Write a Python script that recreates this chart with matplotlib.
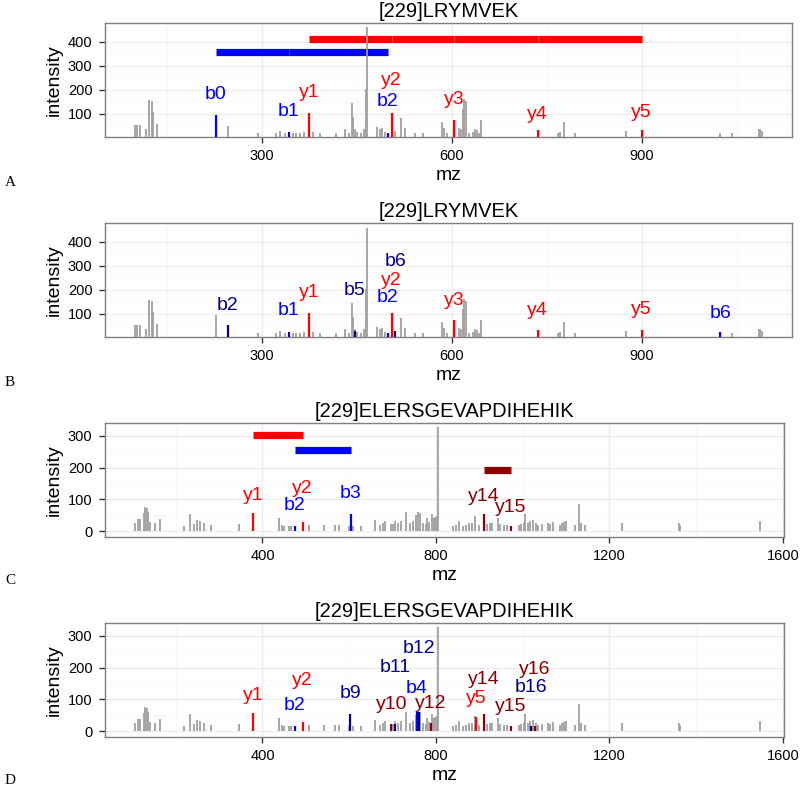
import matplotlib
matplotlib.use("Agg")
import matplotlib.pyplot as plt
from matplotlib.ticker import MultipleLocator

plt.rcParams['font.family'] = ['Liberation Sans', 'DejaVu Sans']

# ---- spectra (gray peaks) ----
lry_mz = [99, 102, 107, 117, 122, 126, 128, 134, 227, 246, 293, 322, 328, 336, 349, 354, 360, 366,
          381, 392, 417, 431, 437, 442, 444, 447, 451, 457, 461, 464, 466, 482, 487, 490, 494, 510,
          520, 526, 542, 555, 585, 588, 593, 611, 614, 618, 620, 623, 628, 633, 636, 640, 643, 646,
          768, 771, 778, 795, 876, 1024, 1043, 1085, 1087, 1091]
lry_int = [53, 53, 53, 35, 158, 154, 105, 58, 95, 49, 18, 18, 28, 21, 18, 18, 18, 24,
           25, 18, 18, 35, 21, 144, 84, 36, 25, 21, 35, 203, 459, 46, 36, 42, 25, 28,
           81, 42, 21, 21, 67, 39, 21, 42, 35, 119, 161, 154, 21, 25, 36, 31, 21, 73,
           21, 25, 67, 18, 28, 18, 18, 34, 35, 28]

eler_mz = [106, 112, 117, 127, 130, 133, 136, 141, 153, 164, 220, 234, 243, 249, 255, 265, 282, 347,
           438, 444, 449, 462, 467, 508, 541, 567, 577, 600, 608, 627, 660, 670, 677, 683, 696, 700,
           705, 712, 720, 730, 741, 747, 754, 759, 764, 771, 776, 780, 785, 791, 796, 799, 803, 805,
           840, 847, 853, 862, 870, 877, 883, 891, 899, 917, 924, 930, 942, 948, 956, 965, 991, 997,
           1003, 1006, 1012, 1018, 1024, 1030, 1036, 1044, 1059, 1064, 1070, 1085, 1091, 1096, 1101,
           1121, 1130, 1135, 1144, 1229, 1360, 1362, 1547]
eler_int = [25, 39, 39, 57, 75, 73, 62, 28, 27, 39, 17, 54, 22, 36, 33, 27, 20, 22,
            43, 20, 18, 18, 18, 20, 20, 20, 20, 18, 18, 17, 36, 20, 25, 31, 22, 22,
            31, 25, 33, 61, 27, 33, 52, 60, 59, 27, 22, 41, 28, 55, 41, 46, 49, 328,
            17, 20, 31, 17, 20, 27, 27, 49, 20, 22, 25, 25, 43, 22, 20, 20, 20, 22,
            27, 54, 25, 33, 36, 27, 20, 22, 25, 22, 28, 20, 25, 28, 31,
            20, 85, 27, 20, 25, 25, 20, 31]

# ---- annotated ions per panel ----
a_ions = ['b0', 'b1', 'y1', 'b2', 'y2', 'y3', 'y4', 'y5']
a_ion_mz = [227, 342, 375, 499, 505, 604, 736, 900]
a_ion_int = [95, 24, 104, 20, 101, 74, 32, 31]
a_ion_col = ['blue', 'blue', 'red', 'blue', 'red', 'red', 'red', 'red']
a_label_y = [180, 108, 187, 151, 238, 157, 98, 105]

b_ions = ['b2', 'b1', 'y1', 'b5', 'b2', 'y2', 'b6', 'y3', 'y4', 'y5', 'b6']
b_ion_mz = [246, 342, 375, 447, 499, 505, 511, 604, 736, 900, 1024]
b_ion_int = [52, 24, 104, 28, 20, 101, 29, 74, 32, 31, 24]
b_ion_col = ['darkblue', 'blue', 'red', 'darkblue', 'blue', 'red', 'darkblue', 'red', 'red', 'red', 'blue']
b_label_y = [132, 112, 188, 198, 167, 240, 318, 156, 112, 116, 102]

c_ions = ['y1', 'b2', 'y2', 'b3', 'y14', 'y15']
c_ion_mz = [379, 474, 493, 604, 910, 973]
c_ion_int = [57, 18, 28, 55, 54, 18]
c_ion_col = ['red', 'blue', 'red', 'blue', 'darkred', 'darkred']
c_label_y = [113, 80, 133, 118, 109, 75]

d_ions = ['y1', 'b2', 'y2', 'b9', 'y10', 'b11', 'b4', 'b12', 'y12', 'y5', 'y14', 'y15', 'b16', 'y16']
d_ion_mz = [379, 474, 493, 602, 697, 706, 756, 762, 789, 892, 910, 973, 1020, 1028]
d_ion_int = [57, 18, 28, 55, 22, 22, 60, 60, 25, 46, 54, 18, 18, 18]
d_ion_col = ['red', 'blue', 'red', 'darkblue', 'darkred', 'darkblue', 'blue', 'darkblue',
             'darkred', 'red', 'darkred', 'darkred', 'darkblue', 'darkred']
d_label_y = [113, 80, 159, 118, 83, 201, 134, 259, 88, 104, 162, 78, 136, 194]

# ion series bars (consecutive ions joined)
a_bar_mz = [[375, 505, 604, 736, 900], [227, 342, 499]]
a_bar_y = [410, 358]
a_bar_col = ['red', 'blue']
c_bar_mz = [[379, 493], [474, 604], [910, 973]]
c_bar_y = [304, 255, 194]
c_bar_col = ['red', 'blue', 'darkred']

titles = ['[229]LRYMVEK', '[229]LRYMVEK', '[229]ELERSGEVAPDIHEHIK', '[229]ELERSGEVAPDIHEHIK']
letters = ['A', 'B', 'C', 'D']

fig = plt.figure(figsize=(8.0, 7.9), dpi=100)

panels = [
    (a_ions, a_ion_mz, a_ion_int, a_ion_col, a_label_y, a_bar_mz, a_bar_y, a_bar_col),
    (b_ions, b_ion_mz, b_ion_int, b_ion_col, b_label_y, [], [], []),
    (c_ions, c_ion_mz, c_ion_int, c_ion_col, c_label_y, c_bar_mz, c_bar_y, c_bar_col),
    (d_ions, d_ion_mz, d_ion_int, d_ion_col, d_label_y, [], [], []),
]
bottoms = [0.827, 0.5738, 0.3206, 0.0675]
letter_y = [183, 382, 581, 780]

for i, (ions, imz, iint, icol, ly, bmz, by, bcol) in enumerate(panels):
    lry = i < 2
    width = 0.859 if lry else 0.849
    ax = fig.add_axes([0.13125, bottoms[i], width, 0.1443])
    ax.set_facecolor('white')

    # bars
    for pts, yy, cc in zip(bmz, by, bcol):
        for k in range(len(pts) - 1):
            ax.plot([pts[k], pts[k + 1]], [yy, yy], color=cc, lw=5.2,
                    solid_capstyle='butt', zorder=2)

    if lry:
        ax.vlines(lry_mz, 0, lry_int, color='#a0a0a0', lw=1.3, zorder=3)
    else:
        ax.vlines(eler_mz, 0, eler_int, color='#a0a0a0', lw=1.3, zorder=3)

    ax.vlines(imz, 0, iint, colors=icol, lw=1.6, zorder=4)
    for name, x, yl, c in zip(ions, imz, ly, icol):
        ax.text(x, yl, name, color=c, fontsize=14, ha='center', va='center', zorder=5)

    if lry:
        ax.set_xlim(52, 1138)
        ax.set_ylim(4, 479)
        ax.set_xticks([300, 600, 900])
        ax.set_yticks([100, 200, 300, 400])
        ax.xaxis.set_minor_locator(MultipleLocator(150))
    else:
        ax.set_xlim(37, 1603)
        ax.set_ylim(-17, 341)
        ax.set_xticks([400, 800, 1200, 1600])
        ax.set_yticks([0, 100, 200, 300])
        ax.xaxis.set_minor_locator(MultipleLocator(200))
    ax.yaxis.set_minor_locator(MultipleLocator(50))

    ax.grid(True, which='major', color='#ebebeb', lw=0.8, zorder=0)
    ax.grid(True, which='minor', color='#f6f6f6', lw=0.5, zorder=0)
    ax.set_axisbelow(True)
    ax.tick_params(which='major', length=4, width=1, color='#333333', labelsize=10.5, pad=5)
    ax.tick_params(which='minor', length=0)
    for s in ax.spines.values():
        s.set_color('#7f7f7f')
        s.set_linewidth(1)

    ax.set_title(titles[i], fontsize=14.5, pad=4)
    ax.set_xlabel('mz', fontsize=14, labelpad=3)
    ax.set_ylabel('intensity', fontsize=14, labelpad=4)

    fig.text(10 / 800, 1 - letter_y[i] / 790, letters[i], family=['Liberation Serif', 'DejaVu Serif'],
             fontsize=11, ha='center', va='center')

fig.savefig('out.png', dpi=100)
